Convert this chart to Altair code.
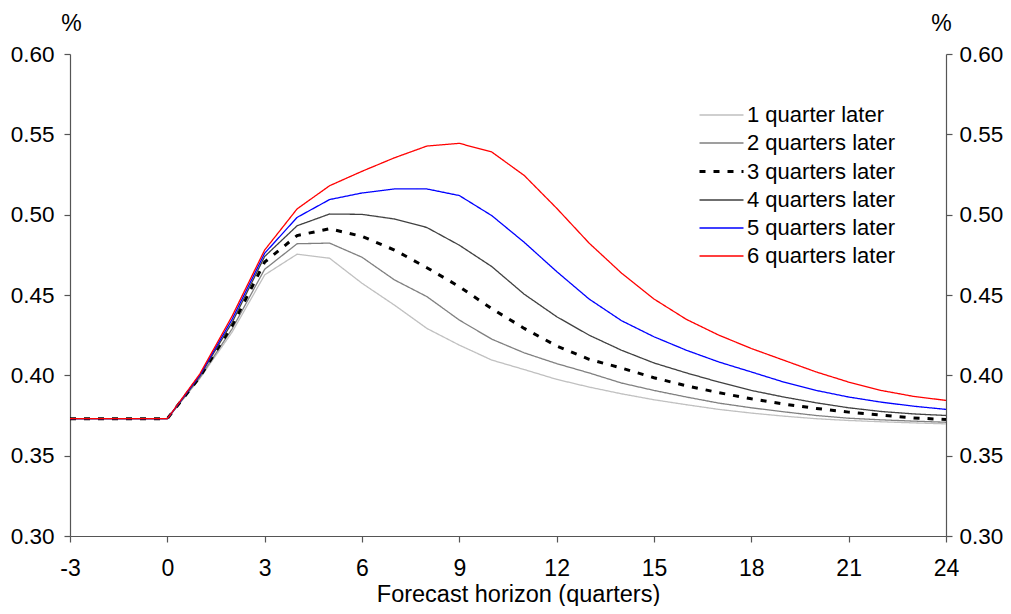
import altair as alt
import pandas as pd

horizon = list(range(-3, 25))

series_names = ["1 quarter later", "2 quarters later", "3 quarters later",
                "4 quarters later", "5 quarters later", "6 quarters later"]

q1 = [0.373, 0.373, 0.373, 0.373, 0.398, 0.427, 0.4625, 0.4754, 0.4729, 0.4573,
      0.4437, 0.4292, 0.4188, 0.4095, 0.4036, 0.3975, 0.3927, 0.3885, 0.3848, 0.3817,
      0.3788, 0.3765, 0.3746, 0.3730, 0.3719, 0.3711, 0.3704, 0.3698]
q2 = [0.373, 0.373, 0.373, 0.373, 0.3985, 0.429, 0.466, 0.4819, 0.4823, 0.4735,
      0.4594, 0.449, 0.4344, 0.4225, 0.414, 0.4073, 0.4015, 0.3952, 0.3906, 0.3865,
      0.3827, 0.3798, 0.3773, 0.3750, 0.3733, 0.3723, 0.3715, 0.3708]
q3 = [0.373, 0.373, 0.373, 0.373, 0.399, 0.431, 0.4705, 0.487, 0.4912, 0.4865,
      0.478, 0.467, 0.4552, 0.4415, 0.4292, 0.4183, 0.410, 0.4045, 0.3985, 0.3935,
      0.3892, 0.3854, 0.3821, 0.3794, 0.3771, 0.3752, 0.3735, 0.3725]
q4 = [0.373, 0.373, 0.373, 0.373, 0.3995, 0.433, 0.474, 0.4931, 0.5004, 0.5002,
      0.4973, 0.492, 0.481, 0.4677, 0.4505, 0.4365, 0.425, 0.4156, 0.4077, 0.4015,
      0.3958, 0.3906, 0.3865, 0.3829, 0.3798, 0.3775, 0.3760, 0.3750]
q5 = [0.373, 0.373, 0.373, 0.373, 0.400, 0.435, 0.476, 0.4983, 0.5094, 0.5135,
      0.516, 0.516, 0.5119, 0.4994, 0.4828, 0.4646, 0.4475, 0.434, 0.424, 0.4156,
      0.4083, 0.4021, 0.3958, 0.3906, 0.3865, 0.3833, 0.3808, 0.3788]
q6 = [0.373, 0.373, 0.373, 0.373, 0.4008, 0.437, 0.478, 0.5036, 0.518, 0.527,
      0.5354, 0.5427, 0.5444, 0.539, 0.5244, 0.504, 0.4823, 0.4636, 0.4475, 0.4348,
      0.425, 0.4167, 0.4094, 0.4021, 0.3958, 0.3906, 0.3869, 0.3844]

colors = ["#c0c0c0", "#808080", "#000000", "#404040", "#0000ff", "#ff0000"]
dashes = [[1, 0], [1, 0], [6, 8], [1, 0], [1, 0], [1, 0]]
widths = [1.3, 1.3, 3, 1.3, 1.3, 1.3]

x_ticks = list(range(-3, 25, 3))
y_ticks = [0.30, 0.35, 0.40, 0.45, 0.50, 0.55, 0.60]

rows = []
for name, vals in zip(series_names, [q1, q2, q3, q4, q5, q6]):
    for h, v in zip(horizon, vals):
        rows.append({"horizon": h, "value": v, "series": name})
df = pd.DataFrame(rows)

FONT = "Liberation Sans"
AXIS_COL = "#555555"

x_enc = alt.X("horizon:Q",
              scale=alt.Scale(domain=[-3, 24], nice=False, zero=False),
              axis=alt.Axis(values=x_ticks, title="Forecast horizon (quarters)",
                            labelExpr="'' + datum.value", labelFontSize=23,
                            titleX=448, titleY=65, titleAlign="center",
                            titleBaseline="alphabetic", titleFontSize=23.5,
                            labelPadding=15, tickSize=6, grid=False,
                            labelFlush=False))

y_scale = alt.Scale(domain=[0.30, 0.60], nice=False, zero=False)

legend = alt.Legend(title=None, orient="none", legendX=639, legendY=49,
                    symbolType="M-2,0L2,0", symbolSize=484,
                    labelFontSize=22, labelFont=FONT,
                    labelOffset=13, rowPadding=5, padding=0,
                    labelColor="#000000")

lines = alt.Chart(df).mark_line(strokeCap="butt", strokeJoin="miter").encode(
    x=x_enc,
    y=alt.Y("value:Q", scale=y_scale,
            axis=alt.Axis(values=y_ticks, format=".2f", title="%", titleAngle=0,
                          titleX=1, titleY=-31, titleAlign="center",
                          titleBaseline="middle", labelPadding=10, tickSize=6,
                          labelFontSize=22.5, grid=False, orient="left")),
    color=alt.Color("series:N", scale=alt.Scale(domain=series_names, range=colors),
                    legend=legend),
    strokeDash=alt.StrokeDash("series:N", scale=alt.Scale(domain=series_names, range=dashes),
                              legend=legend),
    strokeWidth=alt.StrokeWidth("series:N",
                                scale=alt.Scale(type="ordinal", domain=series_names, range=widths),
                                legend=legend),
    order=alt.Order("horizon:Q"),
)

right = alt.Chart(df).mark_line(opacity=0).encode(
    x=x_enc,
    y=alt.Y("value:Q", scale=y_scale,
            axis=alt.Axis(values=y_ticks, format=".2f", title="%", titleAngle=0,
                          titleX=-5, titleY=-31, titleAlign="center",
                          titleBaseline="middle", labelPadding=7, tickSize=6,
                          labelFontSize=22.5, grid=False, orient="right")),
    detail="series:N",
)

chart = alt.layer(lines, right).resolve_scale(y="independent").properties(
    width=876, height=482,
    autosize=alt.AutoSizeParams(type="none"),
    padding={"left": 62, "top": 46, "right": 57, "bottom": 70},
).configure_view(stroke=None).configure_axis(
    labelFont=FONT, titleFont=FONT, labelFontSize=23, titleFontSize=23,
    labelColor="#000000", titleColor="#000000", titleFontWeight="normal",
    domainColor=AXIS_COL, tickColor=AXIS_COL, domainWidth=1.2, tickWidth=1.2,
)

chart.save("out.html", embed_options={"renderer": "svg", "actions": False})
